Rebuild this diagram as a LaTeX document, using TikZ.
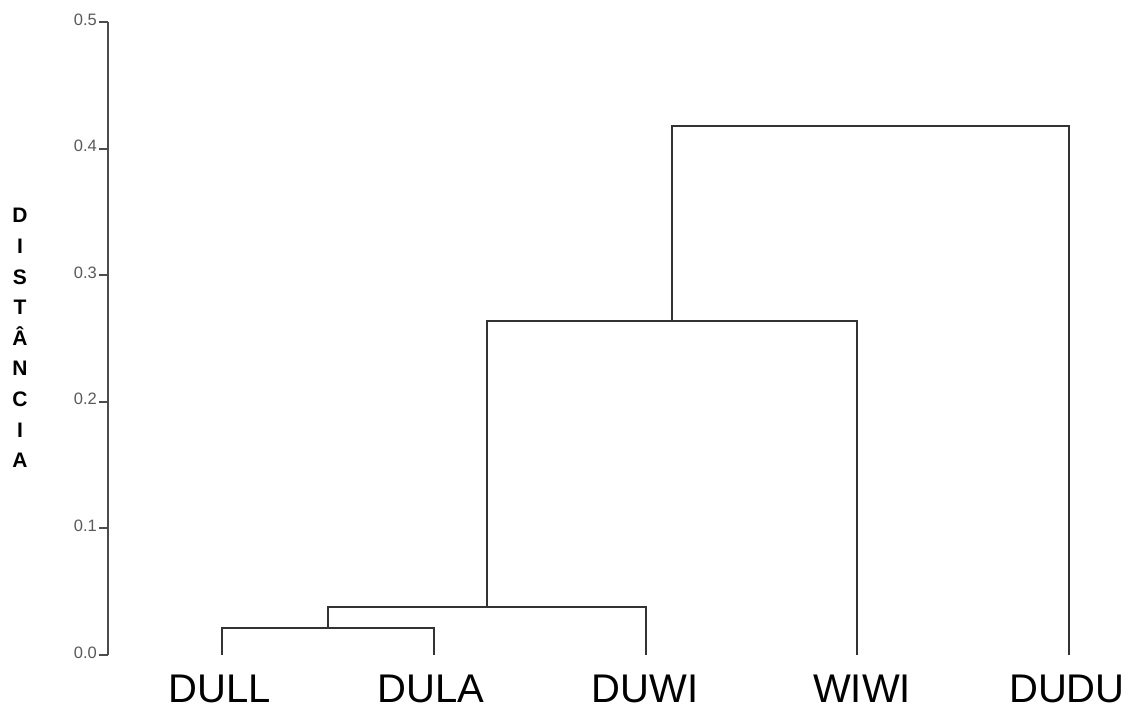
\documentclass[tikz,border=0pt]{standalone}
\usepackage{fontspec}
\setmainfont{Liberation Sans}
\begin{document}
\begin{tikzpicture}[x=1pt,y=-1pt,
  branch/.style={line width=1.7pt, draw=black!80, line join=miter},
  axisline/.style={line width=1.9pt, draw=black!70},
  ticklabel/.style={anchor=east, inner sep=0pt, text=black!65, font=\fontsize{16.5}{16.5}\selectfont},
  leaflabel/.style={anchor=base, inner sep=0pt, font=\fontsize{40}{40}\selectfont},
  ytitle/.style={align=center, inner sep=0pt, font=\fontsize{21}{30.6}\selectfont\bfseries}]
\useasboundingbox (0,0) rectangle (1136,707);
% axis
\coordinate (ax0) at (108,655);
\coordinate (ax5) at (108,22);
\draw[axisline] (ax0) -- (ax5);
\foreach \k/\v/\y in {0/0.0/655,1/0.1/528.4,2/0.2/401.8,3/0.3/275.2,4/0.4/148.6,5/0.5/22}{
  \coordinate (t\k) at (108,\y);
  \coordinate (tl\k) at (99,\y);
  \draw[axisline] (t\k) -- (tl\k);
  \node[ticklabel] (lab\k) at (97,\y-2.5) {\v};
}
\node[ytitle] (ytitle) at (20,338) {D\\I\\S\\T\\Â\\N\\C\\I\\A};
% leaves
\coordinate (a) at (222,655);
\coordinate (b) at (434,655);
\coordinate (c) at (646,655);
\coordinate (d) at (857,655);
\coordinate (e) at (1069,655);
\node[leaflabel] (la) at (220,702.5) {DULL};
\node[leaflabel] (lb) at (431,702.5) {DULA};
\node[leaflabel] (lc) at (645,702.5) {DUWI};
\node[leaflabel] (ld) at (862,702.5) {WIWI};
\node[leaflabel] (le) at (1067,702.5) {DUDU};
% merges
\coordinate (m1) at (328,628);
\coordinate (m2) at (487,607);
\coordinate (m3) at (672,321);
\coordinate (m4) at (870.5,126);
\draw[branch] (a) |- (m1) -| (b);
\draw[branch] (m1) |- (m2) -| (c);
\draw[branch] (m2) |- (m3) -| (d);
\draw[branch] (m3) |- (m4) -| (e);
\end{tikzpicture}
\end{document}
